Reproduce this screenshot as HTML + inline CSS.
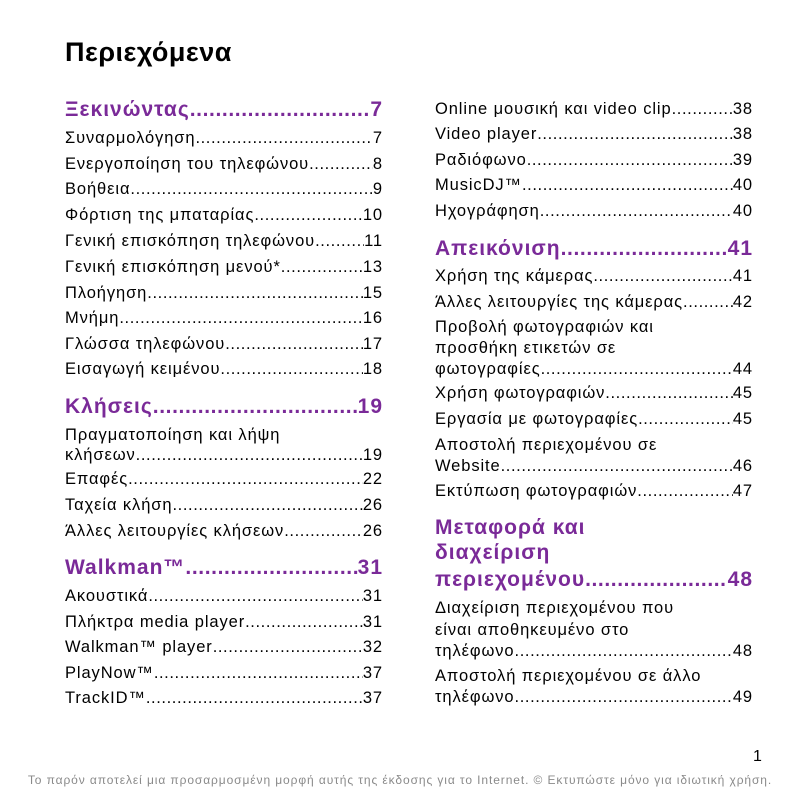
<!DOCTYPE html>
<html><head><meta charset="utf-8">
<style>
html,body{margin:0;padding:0;background:#fff;}
body{width:800px;height:800px;position:relative;overflow:hidden;font-family:"Liberation Sans",sans-serif;color:#000;}
.l{position:absolute;height:22px;line-height:22px;display:flex;white-space:nowrap;font-size:16.5px;letter-spacing:0.9px;}
.c1{left:65px;width:318px;}
.c2{left:435px;width:318px;}
.d{flex:1;overflow:hidden;white-space:nowrap;letter-spacing:0.6px;}
.d::after{content:"..........................................................................................................................";}
.h{font-size:21px;font-weight:bold;color:#7a2a98;height:26px;line-height:26px;letter-spacing:1px;}
.title{position:absolute;left:65px;top:37px;font-size:27px;font-weight:bold;letter-spacing:0.5px;}
.foot{position:absolute;left:0;width:800px;top:773px;text-align:center;font-size:12px;color:#8a8a8a;letter-spacing:0.9px;}
.pg{position:absolute;left:753px;top:748px;font-size:16px;}
</style></head><body>
<div class="title">Περιεχόμενα</div>

<div class="l c1 h" style="top:97px"><span>Ξεκινώντας</span><span class="d"></span><span>7</span></div>
<div class="l c1" style="top:127px"><span>Συναρμολόγηση</span><span class="d"></span><span>7</span></div>
<div class="l c1" style="top:153px"><span>Ενεργοποίηση του τηλεφώνου</span><span class="d"></span><span>8</span></div>
<div class="l c1" style="top:178px"><span>Βοήθεια</span><span class="d"></span><span>9</span></div>
<div class="l c1" style="top:204px"><span>Φόρτιση της μπαταρίας</span><span class="d"></span><span>10</span></div>
<div class="l c1" style="top:230px"><span>Γενική επισκόπηση τηλεφώνου</span><span class="d"></span><span>11</span></div>
<div class="l c1" style="top:256px"><span>Γενική επισκόπηση μενού*</span><span class="d"></span><span>13</span></div>
<div class="l c1" style="top:282px"><span>Πλοήγηση</span><span class="d"></span><span>15</span></div>
<div class="l c1" style="top:307px"><span>Μνήμη</span><span class="d"></span><span>16</span></div>
<div class="l c1" style="top:333px"><span>Γλώσσα τηλεφώνου</span><span class="d"></span><span>17</span></div>
<div class="l c1" style="top:358px"><span>Εισαγωγή κειμένου</span><span class="d"></span><span>18</span></div>

<div class="l c1 h" style="top:394px"><span>Κλήσεις</span><span class="d"></span><span>19</span></div>
<div class="l c1" style="top:424px"><span>Πραγματοποίηση και λήψη</span></div>
<div class="l c1" style="top:444px"><span>κλήσεων</span><span class="d"></span><span>19</span></div>
<div class="l c1" style="top:468px"><span>Επαφές</span><span class="d"></span><span>22</span></div>
<div class="l c1" style="top:494px"><span>Ταχεία κλήση</span><span class="d"></span><span>26</span></div>
<div class="l c1" style="top:520px"><span>Άλλες λειτουργίες κλήσεων</span><span class="d"></span><span>26</span></div>

<div class="l c1 h" style="top:555px"><span>Walkman™ </span><span class="d"></span><span>31</span></div>
<div class="l c1" style="top:585px"><span>Ακουστικά</span><span class="d"></span><span>31</span></div>
<div class="l c1" style="top:611px"><span>Πλήκτρα media player</span><span class="d"></span><span>31</span></div>
<div class="l c1" style="top:636px"><span>Walkman™ player</span><span class="d"></span><span>32</span></div>
<div class="l c1" style="top:662px"><span>PlayNow™</span><span class="d"></span><span>37</span></div>
<div class="l c1" style="top:687px"><span>TrackID™ </span><span class="d"></span><span>37</span></div>

<div class="l c2" style="top:98px"><span>Online μουσική και video clip</span><span class="d"></span><span>38</span></div>
<div class="l c2" style="top:123px"><span>Video player</span><span class="d"></span><span>38</span></div>
<div class="l c2" style="top:149px"><span>Ραδιόφωνο </span><span class="d"></span><span>39</span></div>
<div class="l c2" style="top:174px"><span>MusicDJ™</span><span class="d"></span><span>40</span></div>
<div class="l c2" style="top:200px"><span>Ηχογράφηση </span><span class="d"></span><span>40</span></div>

<div class="l c2 h" style="top:236px"><span>Απεικόνιση </span><span class="d"></span><span>41</span></div>
<div class="l c2" style="top:265px"><span>Χρήση της κάμερας</span><span class="d"></span><span>41</span></div>
<div class="l c2" style="top:291px"><span>Άλλες λειτουργίες της κάμερας</span><span class="d"></span><span>42</span></div>
<div class="l c2" style="top:316px"><span>Προβολή φωτογραφιών και</span></div>
<div class="l c2" style="top:337px"><span>προσθήκη ετικετών σε</span></div>
<div class="l c2" style="top:358px"><span>φωτογραφίες</span><span class="d"></span><span>44</span></div>
<div class="l c2" style="top:382px"><span>Χρήση φωτογραφιών</span><span class="d"></span><span>45</span></div>
<div class="l c2" style="top:408px"><span>Εργασία με φωτογραφίες</span><span class="d"></span><span>45</span></div>
<div class="l c2" style="top:434px"><span>Αποστολή περιεχομένου σε</span></div>
<div class="l c2" style="top:455px"><span>Website</span><span class="d"></span><span>46</span></div>
<div class="l c2" style="top:480px"><span>Εκτύπωση φωτογραφιών</span><span class="d"></span><span>47</span></div>

<div class="l c2 h" style="top:515px"><span>Μεταφορά και</span></div>
<div class="l c2 h" style="top:540px"><span>διαχείριση</span></div>
<div class="l c2 h" style="top:567px"><span>περιεχομένου</span><span class="d"></span><span>48</span></div>
<div class="l c2" style="top:597px"><span>Διαχείριση περιεχομένου που</span></div>
<div class="l c2" style="top:619px"><span>είναι αποθηκευμένο στο</span></div>
<div class="l c2" style="top:640px"><span>τηλέφωνο</span><span class="d"></span><span>48</span></div>
<div class="l c2" style="top:665px"><span>Αποστολή περιεχομένου σε άλλο</span></div>
<div class="l c2" style="top:686px"><span>τηλέφωνο</span><span class="d"></span><span>49</span></div>

<div class="pg">1</div>
<div class="foot">Το παρόν αποτελεί μια προσαρμοσμένη μορφή αυτής της έκδοσης για το Internet. © Εκτυπώστε μόνο για ιδιωτική χρήση.</div>
</body></html>
